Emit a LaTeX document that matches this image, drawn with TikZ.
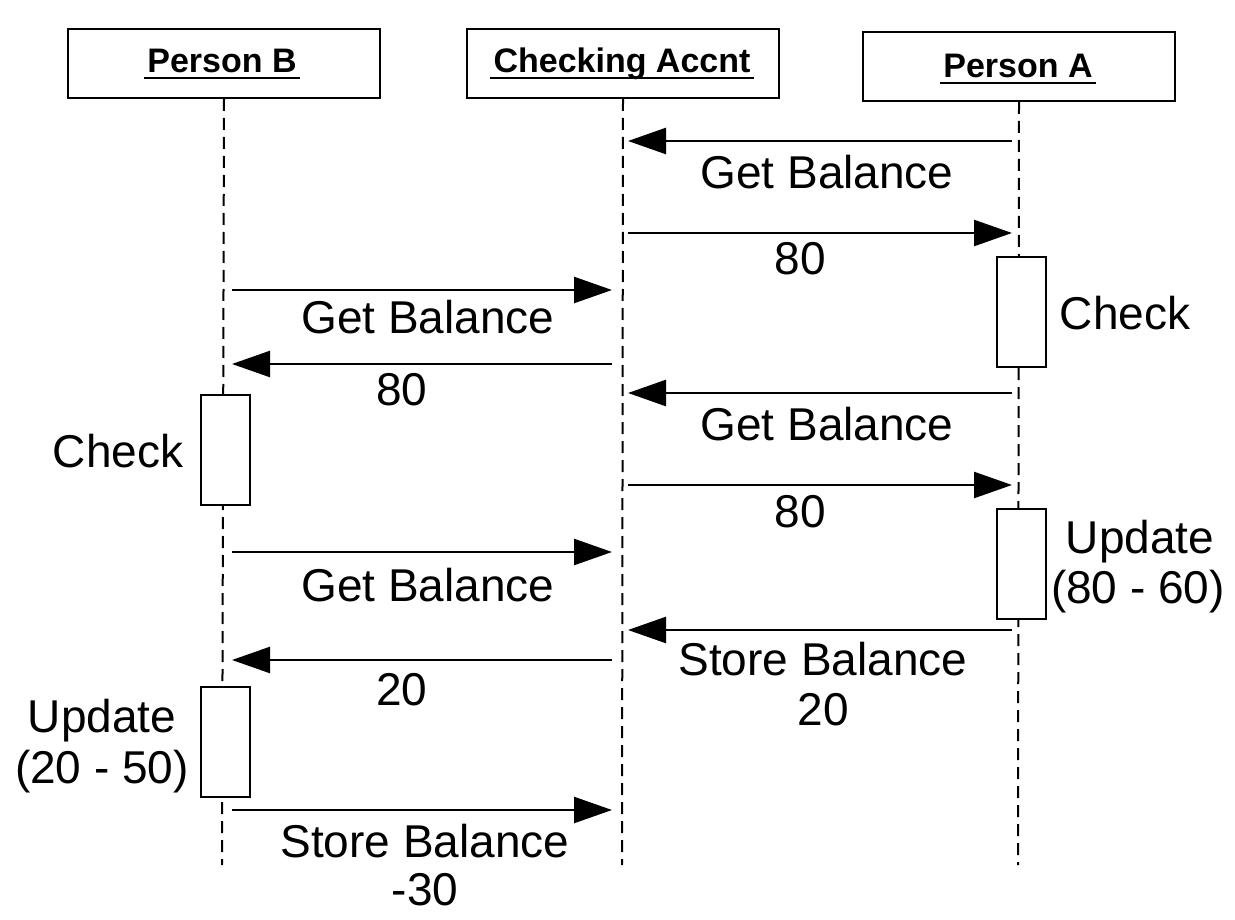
\documentclass[tikz,border=0pt]{standalone}
\usepackage{fontspec}
\setmainfont{Liberation Sans}
\usetikzlibrary{arrows.meta}
\begin{document}
\begin{tikzpicture}[x=1pt,y=-1pt,
  header/.style={draw,line width=2pt,minimum width=312pt,minimum height=69pt,anchor=north west,inner sep=0pt},
  htext/.style={font=\fontsize{34}{40}\selectfont\bfseries,anchor=base},
  life/.style={line width=2pt,dash pattern=on 12pt off 7pt},
  msg/.style={line width=2.5pt,-{Triangle[length=38pt,width=26pt]}},
  lbl/.style={font=\fontsize{46}{52}\selectfont,anchor=base,inner sep=0pt},
  act/.style={draw,line width=2pt,fill=white,minimum width=49pt,minimum height=110pt,anchor=north west,inner sep=0pt}
]
\useasboundingbox (0,0) rectangle (1235,920);
% headers
\node[header] (hb) at (67,28) {};
\node[header] (hc) at (466,28) {};
\node[header] (ha) at (862,31) {};
\node[htext] (tb) at (222,73) {Person B};
\node[htext] (tc) at (622,73) {Checking Accnt};
\node[htext] (ta) at (1018,78) {Person A};
\foreach \t in {tb,tc,ta}
  \draw[line width=2pt] ([yshift=-5pt]\t.base west) -- ([yshift=-5pt]\t.base east);
% lifelines
\coordinate (eb) at (222,865);
\coordinate (ec) at (622,865);
\coordinate (ea) at (1018,865);
\draw[life] (hb.south) -- (eb);
\draw[life] (hc.south) -- (ec);
\draw[life] (ha.south) -- (ea);
% activation boxes
\node[act] (aa1) at (996,256) {};
\node[act] (aa2) at (996,508) {};
\node[act] (ab1) at (200,394) {};
\node[act] (ab2) at (200,686) {};
% message end points
\foreach \n/\y in {1/141,2/233,3/290,4/364,5/393,6/485,7/552,8/630,9/660,10/810}{
  \coordinate (A\n) at (1012,\y);
  \coordinate (Ai\n) at (1012,\y);
  \coordinate (C\n) at (628,\y);
  \coordinate (Cl\n) at (612,\y);
  \coordinate (B\n) at (232,\y);
}
\draw[msg] (A1) -- (C1);
\draw[msg] (C2) -- (A2);
\draw[msg] (B3) -- (Cl3);
\draw[msg] (Cl4) -- (B4);
\draw[msg] (A5) -- (C5);
\draw[msg] (C6) -- (A6);
\draw[msg] (B7) -- (Cl7);
\draw[msg] (A8) -- (C8);
\draw[msg] (Cl9) -- (B9);
\draw[msg] (B10) -- (Cl10);
% labels
\node[lbl] (l1) at (827,189) {Get Balance};
\node[lbl] (l2) at (800,275) {80};
\node[lbl] (l3) at (428,333) {Get Balance};
\node[lbl] (l4) at (402,405) {80};
\node[lbl] (l5) at (827,440) {Get Balance};
\node[lbl] (l6) at (800,527) {80};
\node[lbl] (l7) at (428,601) {Get Balance};
\node[lbl] (l8a) at (823,675) {Store Balance};
\node[lbl] (l8b) at (823,725) {20};
\node[lbl] (l9) at (402,705) {20};
\node[lbl] (l10a) at (425,857) {Store Balance};
\node[lbl] (l10b) at (425,905) {-30};
\node[lbl] (ca) at (1125,330) {Check};
\node[lbl] (cb) at (118,467) {Check};
\node[lbl] (ua1) at (1140,553) {Update};
\node[lbl] (ua2) at (1138,603) {(80 - 60)};
\node[lbl] (ub1) at (102,732) {Update};
\node[lbl] (ub2) at (102,783) {(20 - 50)};
\end{tikzpicture}
\end{document}
